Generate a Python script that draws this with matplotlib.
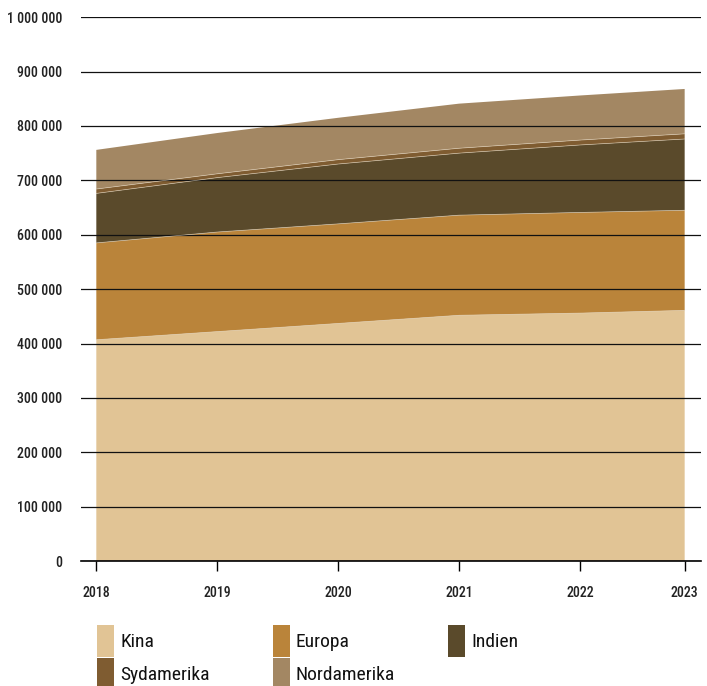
import matplotlib
matplotlib.use("Agg")
import matplotlib.pyplot as plt
from matplotlib import font_manager
from matplotlib.patches import Rectangle

# look for a narrow face, the reference uses a condensed font
narrow = None
for f in sorted(font_manager.fontManager.ttflist, key=lambda f: f.fname):
    fn = f.fname.lower()
    if ("narrow" in fn or "condensed" in fn) and "bold" not in fn and "oblique" not in fn and "italic" not in fn:
        narrow = f.fname
        if "liberation" in fn:
            break
if narrow:
    font_manager.fontManager.addfont(narrow)
    fam = font_manager.FontProperties(fname=narrow).get_name()
    plt.rcParams["font.family"] = [fam, "DejaVu Sans"]
    plt.rcParams["font.stretch"] = "condensed"
else:
    plt.rcParams["font.family"] = ["Roboto", "DejaVu Sans"]

# data
years = ["2018", "2019", "2020", "2021", "2022", "2023"]
year_pos = [0, 1, 2, 3, 4, 4.865]
regions = ["Kina", "Europa", "Indien", "Sydamerika", "Nordamerika"]
kina = [407000, 422000, 437000, 452000, 456000, 461000]
europa = [178000, 183000, 183000, 184000, 185000, 184000]
indien = [91000, 100000, 110000, 114000, 124000, 131000]
sydamerika = [8000, 7000, 8000, 9000, 9000, 9500]
nordamerika = [72000, 75000, 77000, 82000, 82000, 82500]
yticks = [0, 100000, 200000, 300000, 400000, 500000, 600000, 700000, 800000, 900000, 1000000]

colors = ["#e1c495", "#ba843a", "#5a4a2b", "#7f5c31", "#a38763"]
series = [kina, europa, indien, sydamerika, nordamerika]

fig = plt.figure(figsize=(7.07, 6.86), dpi=100)
ax = fig.add_axes([0.114, 0.182, 0.8775, 0.793])

ax.stackplot(year_pos, *series, colors=colors, linewidth=0)

# faint light seams between the layers
total = [0] * len(year_pos)
for s in series[:-1]:
    total = [a + b for a, b in zip(total, s)]
    ax.plot(year_pos, total, color="#e6d8c0", lw=0.5, alpha=0.7, zorder=3)

ax.set_xlim(-0.13, 5.0)
ax.set_ylim(0, 1000000)
ax.set_yticks(yticks)
ax.set_yticklabels([f"{v:,}".replace(",", " ") for v in yticks])
ax.set_xticks(year_pos)
ax.set_xticklabels(years)

ax.grid(axis="y", color="#111111", lw=0.9, zorder=4)
ax.set_axisbelow(False)
for side in ["top", "right", "left"]:
    ax.spines[side].set_visible(False)
ax.spines["bottom"].set_linewidth(1.2)
ax.spines["bottom"].set_zorder(5)

ax.tick_params(axis="y", length=0, pad=13, labelsize=10, labelcolor="#222222")
ax.tick_params(axis="x", length=7, width=1, pad=11, labelsize=10, labelcolor="#222222")
for lab in ax.get_xticklabels() + ax.get_yticklabels():
    lab.set_fontweight("medium")

# legend, 3 columns x 2 rows of tall swatches
W, H = 707, 686
for i, (name, col) in enumerate(zip(regions, colors)):
    c, r = i % 3, i // 3
    x0 = 97 + c * 175.5
    y0 = 625 + r * 33
    fig.patches.append(Rectangle((x0 / W, 1 - (y0 + 32) / H), 17 / W, 32 / H,
                                 transform=fig.transFigure, facecolor=col,
                                 edgecolor="none"))
    fig.text((x0 + 23) / W, 1 - (y0 + 17) / H, name, fontsize=14,
             va="center", ha="left", color="#111111")

fig.savefig("out.png", dpi=100)
